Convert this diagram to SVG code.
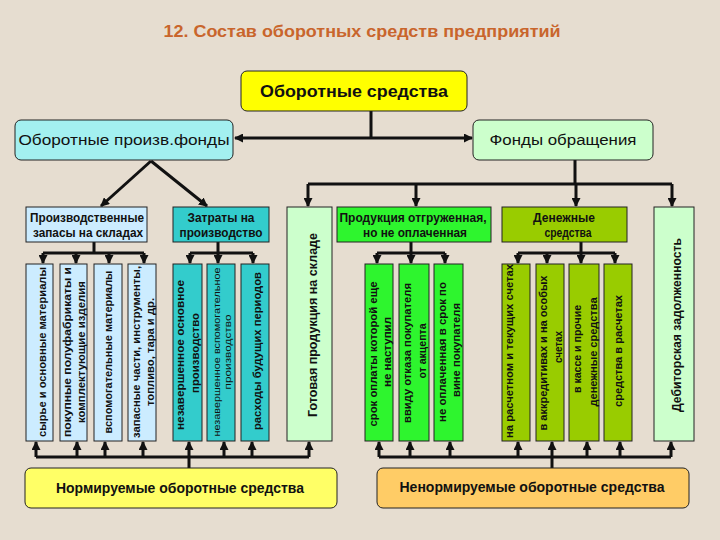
<svg xmlns="http://www.w3.org/2000/svg" width="720" height="540" viewBox="0 0 720 540">
<defs>
<marker id="ah" markerUnits="userSpaceOnUse" markerWidth="9" markerHeight="9" refX="8" refY="4.5" orient="auto"><path d="M0,0 L9,4.5 L0,9 Z" fill="#111"/></marker>
<style>
.bg{fill:#E6DDD0}
.t{font-family:"Liberation Sans",Arial,sans-serif;fill:#111;text-anchor:middle}
.b{font-weight:bold}
.box{stroke:#222;stroke-width:1}
.c{fill:none;stroke:#111;stroke-width:3}
.a{fill:none;stroke:#111;stroke-width:3;marker-end:url(#ah)}
.blue{fill:#CCECFF}.teal{fill:#33CCCC}.pale{fill:#CCFFCC}.lime{fill:#2EF52E}.olive{fill:#99CC00}
</style>
</defs>
<rect class="bg" x="0" y="0" width="720" height="540"/>
<text class="t b" x="362" y="37" font-size="16" fill="#CC6633" style="fill:#C9652C" textLength="397" lengthAdjust="spacingAndGlyphs">12. Состав оборотных средств предприятий</text>

<g id="connectors">
<path class="c" d="M371,111 V138"/>
<path class="a" d="M371,138 H235"/>
<path class="a" d="M371,138 H472"/>
<path class="a" d="M151,161 L101,206"/>
<path class="a" d="M151,161 L207,206"/>
<path class="c" d="M575,160 V184 M308,184 H672"/>
<path class="a" d="M308,184 V206"/>
<path class="a" d="M416,184 V206"/>
<path class="a" d="M576,184 V206"/>
<path class="a" d="M672,184 V206"/>
<path class="c" d="M94,242 V253 M43,253 H144"/>
<path class="a" d="M43,253 V263"/><path class="a" d="M76,253 V263"/><path class="a" d="M109,253 V263"/><path class="a" d="M144,253 V263"/>
<path class="c" d="M218,242 V253 M190,253 H253"/>
<path class="a" d="M190,253 V263"/><path class="a" d="M218,253 V263"/><path class="a" d="M253,253 V263"/>
<path class="c" d="M411,242 V253 M377,253 H445"/>
<path class="a" d="M377,253 V263"/><path class="a" d="M411,253 V263"/><path class="a" d="M445,253 V263"/>
<path class="c" d="M581,242 V253 M518,253 H615"/>
<path class="a" d="M518,253 V263"/><path class="a" d="M547,253 V263"/><path class="a" d="M581,253 V263"/><path class="a" d="M615,253 V263"/>
<path class="c" d="M189,468 V457 M36,457 H309"/>
<path class="a" d="M36,457 V442"/><path class="a" d="M77,457 V442"/><path class="a" d="M105,457 V442"/><path class="a" d="M143,457 V442"/><path class="a" d="M189,457 V442"/><path class="a" d="M224,457 V442"/><path class="a" d="M252,457 V442"/><path class="a" d="M309,457 V442"/>
<path class="c" d="M552,468 V457 M379,457 H671"/>
<path class="a" d="M379,457 V442"/><path class="a" d="M410,457 V442"/><path class="a" d="M450,457 V442"/><path class="a" d="M518,457 V442"/><path class="a" d="M552,457 V442"/><path class="a" d="M587,457 V442"/><path class="a" d="M620,457 V442"/><path class="a" d="M671,457 V442"/>
</g>

<g id="n-oborotnye">
<rect class="box" x="241" y="71" width="226" height="40" rx="6" fill="#FFFF00"/>
<text class="t b" x="354" y="97" font-size="16" textLength="188" lengthAdjust="spacingAndGlyphs">Оборотные средства</text>
</g>
<g id="n-proizv-fondy">
<rect class="box" x="15" y="120" width="218" height="40" rx="6" fill="#A3F0F0"/>
<text class="t" x="124" y="145" font-size="15" textLength="211" lengthAdjust="spacingAndGlyphs">Оборотные произв.фонды</text>
</g>
<g id="n-fondy-obr">
<rect class="box" x="473" y="120" width="180" height="40" rx="6" fill="#CCFFCC"/>
<text class="t" x="563" y="145" font-size="14" textLength="147" lengthAdjust="spacingAndGlyphs">Фонды обращения</text>
</g>

<g id="n-zapasy">
<rect class="box blue" x="26" y="207" width="121" height="35"/>
<text class="t b" x="87" y="222" font-size="12" textLength="114" lengthAdjust="spacingAndGlyphs">Производственные</text>
<text class="t b" x="88" y="237" font-size="12" textLength="110" lengthAdjust="spacingAndGlyphs">запасы на складах</text>
</g>
<g id="n-zatraty">
<rect class="box teal" x="173" y="207" width="96" height="35"/>
<text class="t b" x="221" y="222" font-size="12" textLength="67" lengthAdjust="spacingAndGlyphs">Затраты на</text>
<text class="t b" x="221" y="237" font-size="12" textLength="83" lengthAdjust="spacingAndGlyphs">производство</text>
</g>
<g id="n-gotovaya">
<rect class="box pale" x="287" y="207" width="45" height="234"/>
<text class="t b" transform="translate(316.5,325) rotate(-90)" font-size="13" textLength="184" lengthAdjust="spacingAndGlyphs">Готовая продукция  на складе</text>
</g>
<g id="n-otgruzh">
<rect class="box lime" x="337" y="207" width="154" height="35"/>
<text class="t b" x="413" y="222" font-size="12" textLength="147" lengthAdjust="spacingAndGlyphs">Продукция отгруженная,</text>
<text class="t b" x="415" y="237" font-size="12" textLength="104" lengthAdjust="spacingAndGlyphs">но не оплаченная</text>
</g>
<g id="n-dengi">
<rect class="box olive" x="502" y="207" width="125" height="35"/>
<text class="t b" x="564" y="222" font-size="12" textLength="62" lengthAdjust="spacingAndGlyphs">Денежные</text>
<text class="t b" x="568" y="237" font-size="12" textLength="47" lengthAdjust="spacingAndGlyphs">средства</text>
</g>
<g id="n-debitor">
<rect class="box pale" x="654" y="207" width="40" height="234"/>
<text class="t b" transform="translate(680.5,325) rotate(-90)" font-size="13" textLength="174" lengthAdjust="spacingAndGlyphs">Дебиторская задолженность</text>
</g>

<g id="n-syrie">
<rect class="box blue" x="26" y="264" width="27" height="177"/>
<text class="t b" transform="translate(46,352) rotate(-90)" font-size="11" textLength="170" lengthAdjust="spacingAndGlyphs">сырье и основные материалы</text>
</g>
<g id="n-pokupnye">
<rect class="box blue" x="60" y="264" width="27" height="177"/>
<text class="t b" transform="translate(71,352) rotate(-90)" font-size="11" textLength="170" lengthAdjust="spacingAndGlyphs">покупные полуфабрикаты и</text>
<text class="t b" transform="translate(85,352) rotate(-90)" font-size="11" textLength="142" lengthAdjust="spacingAndGlyphs">комплектующие изделия</text>
</g>
<g id="n-vspomog">
<rect class="box blue" x="94" y="264" width="28" height="177"/>
<text class="t b" transform="translate(112,352) rotate(-90)" font-size="11" textLength="163" lengthAdjust="spacingAndGlyphs">вспомогательные материалы</text>
</g>
<g id="n-zapchasti">
<rect class="box blue" x="128" y="264" width="28" height="177"/>
<text class="t b" transform="translate(140,352) rotate(-90)" font-size="11" textLength="172" lengthAdjust="spacingAndGlyphs">запасные части, инструменты,</text>
<text class="t b" transform="translate(154,352) rotate(-90)" font-size="11" textLength="108" lengthAdjust="spacingAndGlyphs">топливо, тара и др.</text>
</g>

<g id="n-nezav-osn">
<rect class="box teal" x="173" y="264" width="29" height="177"/>
<text class="t b" transform="translate(184,355) rotate(-90)" font-size="11" textLength="150" lengthAdjust="spacingAndGlyphs">незавершенное основное</text>
<text class="t b" transform="translate(199,353) rotate(-90)" font-size="11" textLength="80" lengthAdjust="spacingAndGlyphs">производство</text>
</g>
<g id="n-nezav-vsp">
<rect class="box teal" x="207" y="264" width="28" height="177"/>
<text class="t" transform="translate(220,352) rotate(-90)" font-size="9" textLength="169" lengthAdjust="spacingAndGlyphs">незавершенное вспомогательное</text>
<text class="t" transform="translate(231,352) rotate(-90)" font-size="9" textLength="75" lengthAdjust="spacingAndGlyphs">производство</text>
</g>
<g id="n-raskhody">
<rect class="box teal" x="241" y="264" width="28" height="177"/>
<text class="t b" transform="translate(261,351) rotate(-90)" font-size="11" textLength="158" lengthAdjust="spacingAndGlyphs">расходы будущих периодов</text>
</g>

<g id="n-srok">
<rect class="box lime" x="365" y="264" width="28" height="177"/>
<text class="t b" transform="translate(377,354) rotate(-90)" font-size="11" textLength="145" lengthAdjust="spacingAndGlyphs">срок оплаты которой еще</text>
<text class="t b" transform="translate(391,352) rotate(-90)" font-size="11" textLength="70" lengthAdjust="spacingAndGlyphs">не наступил</text>
</g>
<g id="n-otkaz">
<rect class="box lime" x="399" y="264" width="30" height="177"/>
<text class="t b" transform="translate(411,353) rotate(-90)" font-size="11" textLength="140" lengthAdjust="spacingAndGlyphs">ввиду отказа покупателя</text>
<text class="t b" transform="translate(426,351) rotate(-90)" font-size="11" textLength="55" lengthAdjust="spacingAndGlyphs">от акцепта</text>
</g>
<g id="n-neoplach">
<rect class="box lime" x="434" y="264" width="29" height="177"/>
<text class="t b" transform="translate(446,352) rotate(-90)" font-size="11" textLength="140" lengthAdjust="spacingAndGlyphs">не оплаченная в срок по</text>
<text class="t b" transform="translate(460,350) rotate(-90)" font-size="11" textLength="94" lengthAdjust="spacingAndGlyphs">вине покупателя</text>
</g>

<g id="n-raschetnom">
<rect class="box olive" x="502" y="264" width="28" height="177"/>
<text class="t b" transform="translate(512.5,351) rotate(-90)" font-size="10" textLength="174" lengthAdjust="spacingAndGlyphs">на расчетном и текущих счетах</text>
</g>
<g id="n-akkred">
<rect class="box olive" x="536" y="264" width="28" height="177"/>
<text class="t b" transform="translate(546.5,353) rotate(-90)" font-size="10" textLength="155" lengthAdjust="spacingAndGlyphs">в аккредитивах и на особых</text>
<text class="t b" transform="translate(561.5,347) rotate(-90)" font-size="10" textLength="32" lengthAdjust="spacingAndGlyphs">счетах</text>
</g>
<g id="n-kassa">
<rect class="box olive" x="569" y="264" width="30" height="177"/>
<text class="t b" transform="translate(580.5,349) rotate(-90)" font-size="10" textLength="88" lengthAdjust="spacingAndGlyphs">в кассе и прочие</text>
<text class="t b" transform="translate(596.5,352) rotate(-90)" font-size="10" textLength="109" lengthAdjust="spacingAndGlyphs">денежные средства</text>
</g>
<g id="n-sredstva">
<rect class="box olive" x="604" y="264" width="28" height="177"/>
<text class="t b" transform="translate(621.5,351) rotate(-90)" font-size="10" textLength="112" lengthAdjust="spacingAndGlyphs">средства в расчетах</text>
</g>

<g id="n-normir">
<rect class="box" x="25" y="468" width="312" height="40" rx="6" fill="#FFFF66"/>
<text class="t b" x="180" y="493" font-size="14" textLength="248" lengthAdjust="spacingAndGlyphs">Нормируемые оборотные средства</text>
</g>
<g id="n-nenormir">
<rect class="box" x="377" y="468" width="312" height="40" rx="6" fill="#FFCC66"/>
<text class="t b" x="532" y="492" font-size="14" textLength="265" lengthAdjust="spacingAndGlyphs">Ненормируемые оборотные средства</text>
</g>
</svg>
